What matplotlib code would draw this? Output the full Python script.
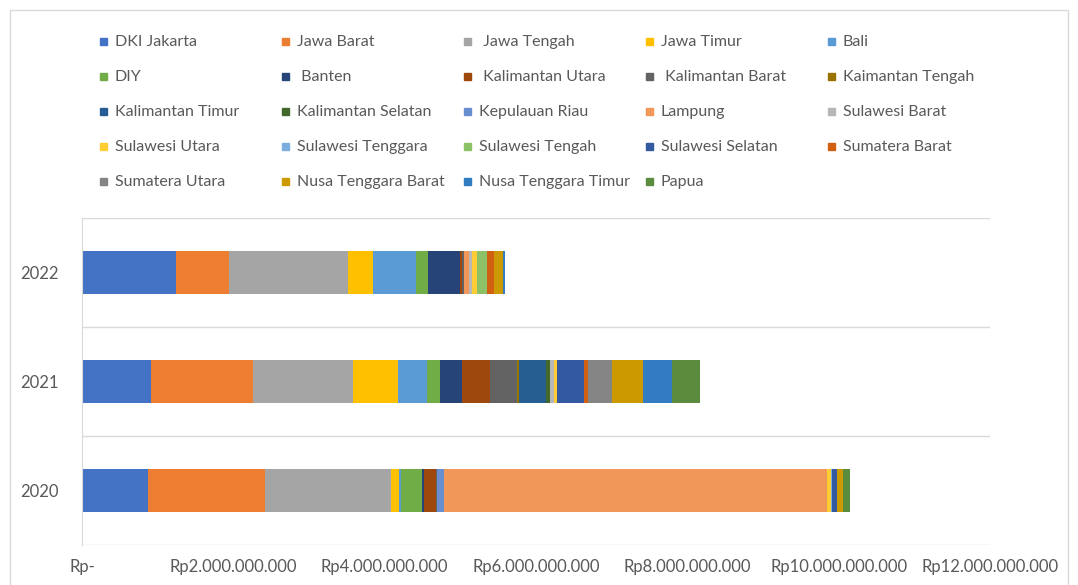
import matplotlib
matplotlib.use("Agg")
import matplotlib.pyplot as plt
from matplotlib.patches import Rectangle

plt.rcParams['font.family'] = ['Lato', 'DejaVu Sans']

W, H = 1078, 585

years = ["2020", "2021", "2022"]
provinces = [
    "DKI Jakarta", "Jawa Barat", " Jawa Tengah", "Jawa Timur", "Bali",
    "DIY", " Banten", " Kalimantan Utara", " Kalimantan Barat", "Kaimantan Tengah",
    "Kalimantan Timur", "Kalimantan Selatan", "Kepulauan Riau", "Lampung", "Sulawesi Barat",
    "Sulawesi Utara", "Sulawesi Tenggara", "Sulawesi Tengah", "Sulawesi Selatan", "Sumatera Barat",
    "Sumatera Utara", "Nusa Tenggara Barat", "Nusa Tenggara Timur", "Papua",
]
# values per province for 2020, 2021, 2022 (rupiah)
values = [
    [0.87e9, 0.915e9, 1.24e9],
    [1.55e9, 1.34e9, 0.70e9],
    [1.66e9, 1.33e9, 1.57e9],
    [0.11e9, 0.59e9, 0.34e9],
    [0.02e9, 0.38e9, 0.56e9],
    [0.28e9, 0.17e9, 0.16e9],
    [0.035e9, 0.30e9, 0.42e9],
    [0.155e9, 0.37e9, 0.026e9],
    [0.01e9, 0.35e9, 0.026e9],
    [0.0, 0.03e9, 0.0],
    [0.0, 0.36e9, 0.0],
    [0.0, 0.05e9, 0.0],
    [0.09e9, 0.0, 0.0],
    [5.07e9, 0.0, 0.07e9],
    [0.0, 0.053e9, 0.04e9],
    [0.044e9, 0.035e9, 0.07e9],
    [0.022e9, 0.0, 0.0],
    [0.0, 0.0, 0.13e9],
    [0.057e9, 0.36e9, 0.0],
    [0.0, 0.06e9, 0.095e9],
    [0.0, 0.31e9, 0.0],
    [0.08e9, 0.41e9, 0.12e9],
    [0.0, 0.38e9, 0.02e9],
    [0.10e9, 0.37e9, 0.0],
]
colors = [
    "#4472C4", "#ED7D31", "#A5A5A5", "#FFC000", "#5B9BD5",
    "#70AD47", "#264478", "#9E480E", "#636363", "#997300",
    "#255E91", "#43682B", "#698ED0", "#F1975A", "#B7B7B7",
    "#FFCD33", "#7CAFDD", "#8CC168", "#335AA1", "#D26012",
    "#848484", "#CC9A00", "#327DC2", "#5B8C3D",
]
xticks = [0, 2e9, 4e9, 6e9, 8e9, 10e9, 12e9]
xtick_labels = ["Rp-", "Rp2.000.000.000", "Rp4.000.000.000", "Rp6.000.000.000",
                "Rp8.000.000.000", "Rp10.000.000.000", "Rp12.000.000.000"]

txt = "#595959"
grid = "#d9d9d9"

fig = plt.figure(figsize=(W / 100, H / 100), dpi=100)
ax = fig.add_axes([82 / W, 1 - 545 / H, (990 - 82) / W, (545 - 218) / H])

ypos = list(range(len(years)))
left = [0.0] * len(years)
for name, vals, c in zip(provinces, values, colors):
    ax.barh(ypos, vals, left=left, height=0.4, color=c, linewidth=0, label=name)
    left = [a + b for a, b in zip(left, vals)]

ax.set_xlim(0, 12e9)
ax.set_ylim(-0.5, 2.5)
ax.set_xticks(xticks)
ax.set_xticklabels(xtick_labels)
ax.set_yticks(ypos)
ax.set_yticklabels(years)
ax.set_yticks([-0.5, 0.5, 1.5, 2.5], minor=True)
ax.grid(axis='y', which='minor', color=grid, linewidth=1)
ax.tick_params(axis='both', which='both', length=0, colors=txt)
ax.tick_params(axis='x', pad=10, labelsize=12)
ax.tick_params(axis='y', pad=17, labelsize=12)
for s in ["top", "right", "bottom"]:
    ax.spines[s].set_visible(False)
ax.spines["left"].set_color(grid)

# legend, laid out like the original in 5 equal columns
col_x = [100, 282, 464, 646, 828]
row_y = [41, 76, 111, 146, 181]
for i, (name, c) in enumerate(zip(provinces, colors)):
    r, k = divmod(i, 5)
    x0, y0 = col_x[k], row_y[r]
    fig.patches.append(Rectangle((x0 / W, 1 - (y0 + 3.5) / H), 7 / W, 7 / H,
                                 transform=fig.transFigure, color=c, figure=fig))
    fig.text((x0 + 15) / W, 1 - (y0 + 1) / H, name, color=txt, fontsize=11.5,
             va='center', ha='left')

# chart area border
fig.patches.append(Rectangle((10 / W, -0.05), (1068 - 10) / W, 1.05 - 10 / H,
                             transform=fig.transFigure, fill=False,
                             edgecolor=grid, linewidth=1, figure=fig))

fig.savefig("out.png", dpi=100)
